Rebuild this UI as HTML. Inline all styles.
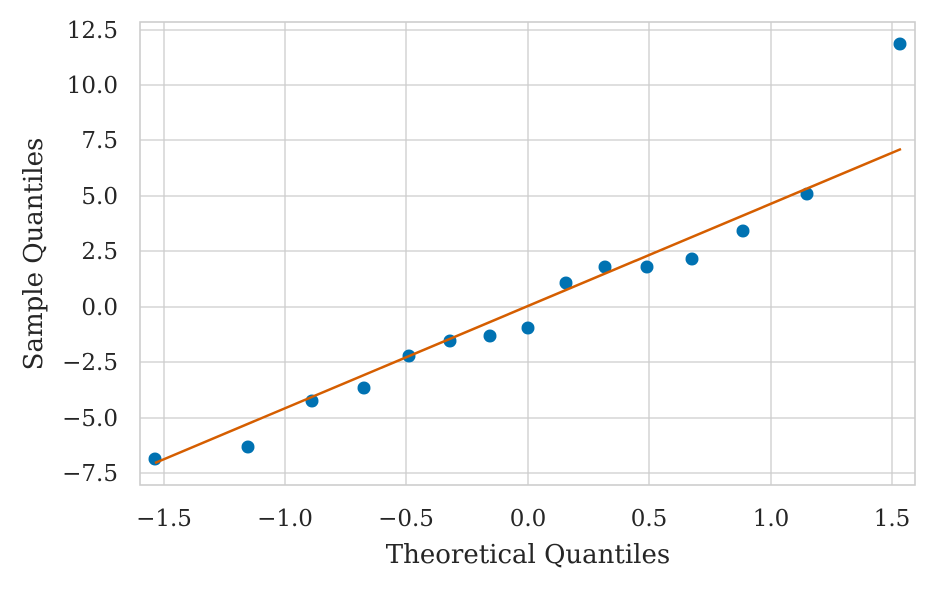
<!DOCTYPE html>
<html><head><meta charset="utf-8"><style>
html,body{margin:0;padding:0;background:#fff;}
text{font-family:"DejaVu Serif","Liberation Serif",serif;fill:#262626;}
</style></head><body>
<svg width="935" height="589" viewBox="0 0 935 589" xmlns="http://www.w3.org/2000/svg">
<rect width="935" height="589" fill="#fff"/>
<g stroke="#cccccc" stroke-width="1.3">
<line x1="164" y1="22" x2="164" y2="485"/>
<line x1="285" y1="22" x2="285" y2="485"/>
<line x1="406" y1="22" x2="406" y2="485"/>
<line x1="528" y1="22" x2="528" y2="485"/>
<line x1="649" y1="22" x2="649" y2="485"/>
<line x1="771" y1="22" x2="771" y2="485"/>
<line x1="892" y1="22" x2="892" y2="485"/>
<line x1="140" y1="30" x2="915" y2="30"/>
<line x1="140" y1="85" x2="915" y2="85"/>
<line x1="140" y1="140" x2="915" y2="140"/>
<line x1="140" y1="196" x2="915" y2="196"/>
<line x1="140" y1="251" x2="915" y2="251"/>
<line x1="140" y1="307" x2="915" y2="307"/>
<line x1="140" y1="362" x2="915" y2="362"/>
<line x1="140" y1="418" x2="915" y2="418"/>
<line x1="140" y1="473" x2="915" y2="473"/>
</g>
<rect x="140" y="22" width="775" height="463" fill="none" stroke="#cccccc" stroke-width="1.6"/>
<g fill="#0072b2">
<circle cx="155" cy="459" r="6.5"/><circle cx="248" cy="447" r="6.5"/><circle cx="312" cy="401" r="6.5"/>
<circle cx="364" cy="388" r="6.5"/><circle cx="409" cy="356" r="6.5"/><circle cx="450" cy="341" r="6.5"/>
<circle cx="490" cy="336" r="6.5"/><circle cx="528" cy="328" r="6.5"/><circle cx="566" cy="283" r="6.5"/>
<circle cx="605" cy="267" r="6.5"/><circle cx="647" cy="267" r="6.5"/><circle cx="692" cy="259" r="6.5"/>
<circle cx="743" cy="231" r="6.5"/><circle cx="807" cy="194" r="6.5"/><circle cx="900" cy="44" r="6.5"/>
</g>
<line x1="155" y1="463" x2="901" y2="149" stroke="#d55e00" stroke-width="2.5"/>
<g font-size="23" text-anchor="middle">
<text x="164" y="526">−1.5</text><text x="285" y="526">−1.0</text><text x="406" y="526">−0.5</text>
<text x="528" y="526">0.0</text><text x="649" y="526">0.5</text><text x="771" y="526">1.0</text><text x="892" y="526">1.5</text>
</g>
<g font-size="23" text-anchor="end">
<text x="118" y="38">12.5</text><text x="118" y="93">10.0</text><text x="118" y="148">7.5</text>
<text x="118" y="204">5.0</text><text x="118" y="259">2.5</text><text x="118" y="315">0.0</text>
<text x="118" y="370">−2.5</text><text x="118" y="426">−5.0</text><text x="118" y="481">−7.5</text>
</g>
<text x="528" y="563" font-size="26" text-anchor="middle">Theoretical Quantiles</text>
<text x="0" y="0" font-size="26" text-anchor="middle" transform="translate(42 254) rotate(-90)">Sample Quantiles</text>
</svg>
</body></html>
